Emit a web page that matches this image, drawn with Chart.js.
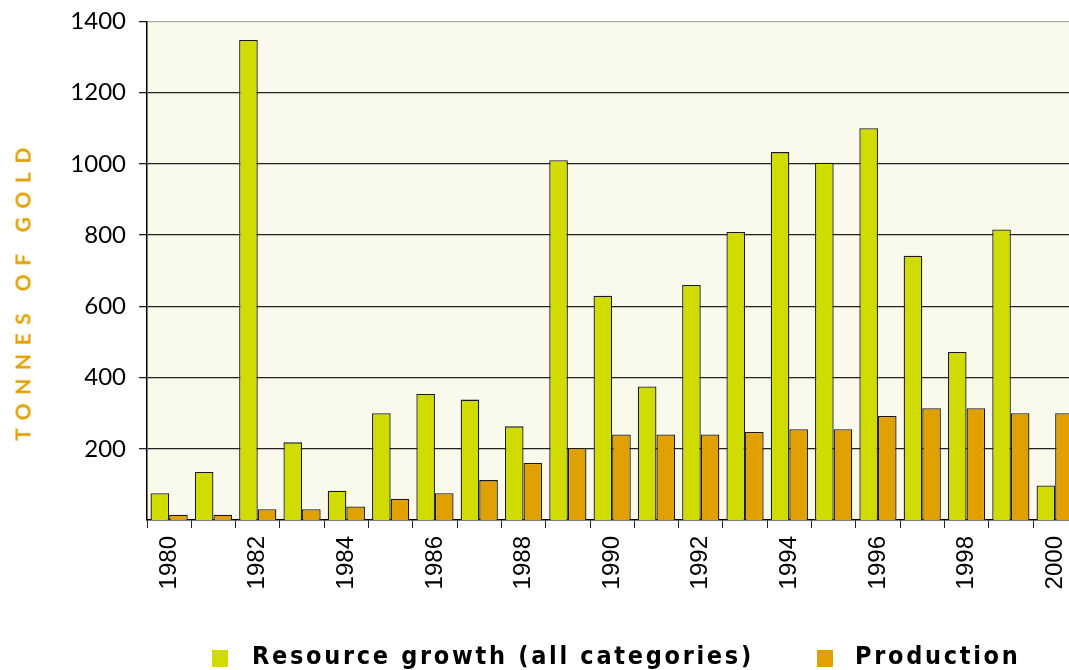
<!DOCTYPE html>
<html>
<head>
<meta charset="utf-8">
<script src="https://cdn.jsdelivr.net/npm/chart.js@4.4.0/dist/chart.umd.min.js"></script>
<style>
  html, body { margin: 0; padding: 0; background: #fff; overflow: hidden; }
  #wrap { position: relative; width: 1092px; height: 670px; overflow: hidden; }
  #chart { position: absolute; left: 0; top: -6px; }
  #yTitle {
    position: absolute; left: 22px; top: 290px;
    transform: translate(-50%, -50%) rotate(-90deg);
    font: bold 21px "Lato", sans-serif; letter-spacing: 8.5px;
    color: #e0a000; white-space: nowrap;
  }
  .leg { position: absolute; top: 641px; white-space: nowrap;
    font: bold 25px "Liberation Sans Narrow", "DejaVu Sans Condensed", sans-serif;
    letter-spacing: 2.7px; color: #000; }
  .box { position: absolute; top: 650px; width: 16px; height: 17px; }
</style>
</head>
<body>
<div id="wrap">
  <canvas id="chart" width="1092" height="676"></canvas>
  <div id="yTitle">TONNES OF GOLD</div>
  <div class="box" style="left:212px;background:#d0dc00"></div>
  <div class="leg" id="leg1" style="left:252px">Resource growth (all categories)</div>
  <div class="box" style="left:817px;background:#e0a000"></div>
  <div class="leg" id="leg2" style="left:855px">Production</div>
</div>
<script>
const years = ['1980','1981','1982','1983','1984','1985','1986','1987','1988','1989','1990',
  '1991','1992','1993','1994','1995','1996','1997','1998','1999','2000'];
const resourceGrowth = [75, 135, 1348, 218, 82, 300, 354, 338, 263, 1010, 630,
  375, 660, 809, 1033, 1003, 1100, 742, 472, 816, 97];
const production = [15, 15, 30, 30, 38, 60, 75, 112, 160, 202, 240,
  240, 240, 247, 255, 255, 292, 314, 314, 300, 300];
const yTicks = [200, 400, 600, 800, 1000, 1200, 1400];

const plotBg = {
  id: 'plotBg',
  beforeDraw(chart) {
    const a = chart.chartArea, ctx = chart.ctx;
    ctx.save();
    ctx.fillStyle = '#f9f9ec';
    ctx.fillRect(a.left, a.top, a.right - a.left, a.bottom - a.top);
    ctx.restore();
  }
};

new Chart(document.getElementById('chart'), {
  type: 'bar',
  data: {
    labels: years,
    datasets: [
      { label: 'Resource growth (all categories)', data: resourceGrowth,
        backgroundColor: '#d0dc00', borderColor: '#1a1a1a', borderWidth: 1.3,
        barPercentage: 1, categoryPercentage: 0.84 },
      { label: 'Production', data: production,
        backgroundColor: '#e0a000', borderColor: '#1a1a1a', borderWidth: 1.3,
        barPercentage: 1, categoryPercentage: 0.84 }
    ]
  },
  options: {
    responsive: false,
    animation: false,
    layout: { padding: { top: 15, left: 0, right: 2, bottom: 0 } },
    plugins: { legend: { display: false }, tooltip: { enabled: false } },
    scales: {
      x: {
        offset: true,
        afterFit(scale) { scale.height = 150; },
        grid: { offset: true, drawOnChartArea: false, drawTicks: true, tickLength: 8, color: '#222' },
        border: { color: '#000', width: 1.5 },
        ticks: {
          autoSkip: false, maxRotation: 90, minRotation: 90, padding: 8,
          color: '#000', font: { family: 'Liberation Sans', size: 24 },
          callback(v, i) { return i % 2 === 0 ? years[i] : ''; }
        }
      },
      y: {
        min: 0, max: 1400,
        afterFit(scale) { scale.width = 147; },
        afterBuildTicks(scale) { scale.ticks = yTicks.map(v => ({ value: v })); },
        grid: {
          color: ctx => ctx.tick && ctx.tick.value === 1400 ? '#aaaaaa' : '#222',
          tickColor: '#222', lineWidth: 1.3, tickLength: 8
        },
        border: { color: '#000', width: 1.5 },
        ticks: { padding: 13, color: '#000', font: { family: 'Lato', size: 24 },
          callback: v => String(v) }
      }
    }
  },
  plugins: [plotBg]
});
</script>
</body>
</html>
